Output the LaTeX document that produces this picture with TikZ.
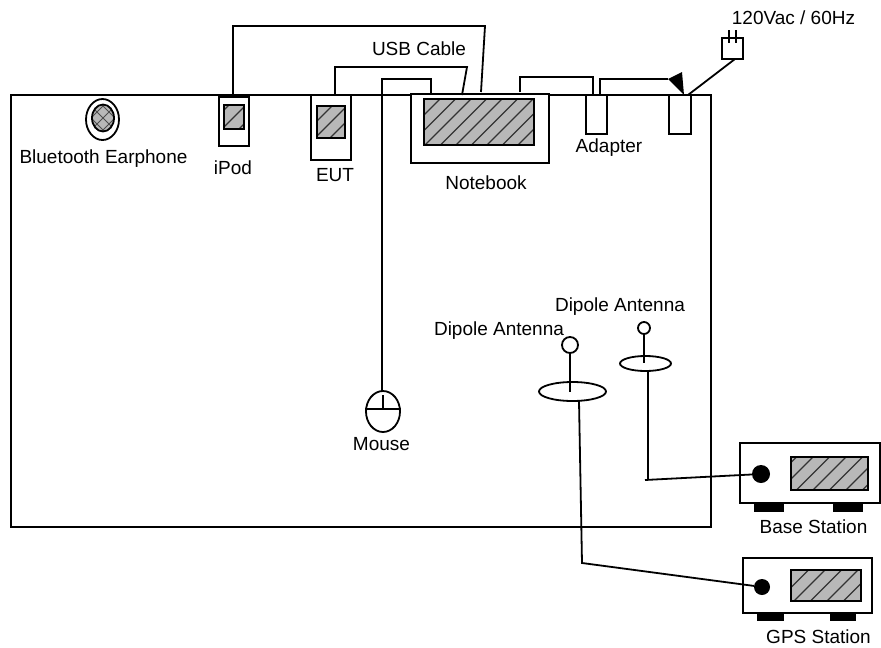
\documentclass[tikz,border=0pt]{standalone}
\usepackage{fontspec}
\setmainfont{Liberation Sans}
\usetikzlibrary{shapes.geometric}
\newcommand{\pbox}[6]{\node[#1,minimum width={(#5-#3)*1pt},minimum height={(#6-#4)*1pt}] (#2) at ({(#3+#5)/2},{(#4+#6)/2}) {};}
\definecolor{shade}{HTML}{B8B8B8}
\tikzset{
  wire/.style={line width=1.8pt,black,line join=miter},
  boxed/.style={draw=black,line width=1.8pt,fill=white,inner sep=0pt,outer sep=0pt,rectangle},
  oval/.style={draw=black,line width=1.8pt,fill=white,inner sep=0pt,outer sep=0pt,ellipse},
  ring/.style={draw=black,line width=1.8pt,fill=white,inner sep=0pt,outer sep=0pt,circle},
  dot/.style={fill=black,inner sep=0pt,outer sep=0pt,circle},
  foot/.style={fill=black,inner sep=0pt,outer sep=0pt,rectangle},
  lab/.style={inner sep=0pt,outer sep=0pt,font=\fontsize{19}{20}\selectfont,text=black},
  hatched/.style={draw=black,line width=1.8pt,fill=shade,inner sep=0pt,outer sep=0pt,rectangle,
    path picture={\foreach \k in {-14,...,14}{
      \draw[black!80,line width=1.3pt] ([xshift=\k*#1*1pt-100pt,yshift=-100pt]path picture bounding box.center) -- +(200pt,200pt);}}},
  crossed/.style={draw=black,line width=1.8pt,fill=shade,inner sep=0pt,outer sep=0pt,ellipse,
    path picture={\foreach \k in {-1,0,1}{
      \draw[black!70,line width=1pt] ([xshift=\k*12pt-60pt,yshift=-60pt]path picture bounding box.center) -- +(120pt,120pt);
      \draw[black!70,line width=1pt] ([xshift=\k*12pt+60pt,yshift=-60pt]path picture bounding box.center) -- +(-120pt,120pt);}}},
}
\begin{document}
\begin{tikzpicture}[x=1pt,y=-1pt]
\useasboundingbox (0,0) rectangle (881,648);
% room
\pbox{boxed,fill=none}{room}{11}{95}{711}{527}
% earphone
\node[oval,minimum width=33pt,minimum height=41pt] (earout) at (102.5,119.5) {};
\node[crossed,minimum width=22pt,minimum height=27pt] (earin) at (103,118) {};
% ipod
\pbox{boxed}{ipod}{219}{97}{249}{146}
\pbox{hatched=17}{ipodscreen}{224}{105}{244}{129}
% eut
\pbox{boxed}{eut}{311}{95}{351}{160}
\pbox{hatched=15}{eutscreen}{317}{106}{345}{138}
% notebook
\pbox{boxed}{notebook}{411}{94}{549}{163}
\pbox{hatched=15.5}{nbscreen}{424}{99}{534}{145}
% adapters
\pbox{boxed}{adapter}{586}{95}{607}{134}
\pbox{boxed}{outlet}{669}{95}{691}{134}
% plug
\pbox{boxed,fill=none}{plug}{722}{38}{743}{59}
\coordinate (prongA) at (729,30); \coordinate (prongAe) at (729,43);
\coordinate (prongB) at (736,30); \coordinate (prongBe) at (736,43);
\draw[wire] (prongA) -- (prongAe);
\draw[wire] (prongB) -- (prongBe);
% connectors at top
\coordinate (ipodtop) at (233,97);
\coordinate (nbA) at (481,92);
\coordinate (nbAc) at (485,26);
\draw[wire] (ipodtop) |- (nbAc) -- (nbA);
\coordinate (euttop) at (335,95);
\coordinate (nbB) at (462,95);
\coordinate (nbBc) at (467,67);
\draw[wire] (euttop) |- (nbBc) -- (nbB);
\coordinate (nbC) at (431,95);
\coordinate (mousetop) at (382,392);
\coordinate (mousec) at (431,79);
\draw[wire] (mousetop) |- (mousec) -- (nbC);
\coordinate (nbD) at (520,92);
\coordinate (adA) at (593,95);
\coordinate (adAc) at (593,77);
\draw[wire] (nbD) |- (adAc) -- (adA);
\coordinate (adB) at (600,95);
\coordinate (tipA) at (668,79);
\draw[wire] (adB) |- (tipA);
\coordinate (tipB) at (682,72);
\coordinate (tipC) at (684,95);
\fill[black] (tipA) -- (tipB) -- (tipC) -- cycle;
\coordinate (outlettop) at (688,95);
\coordinate (plugbot) at (735,59);
\draw[wire] (outlettop) -- (plugbot);
% mouse
\node[oval,minimum width=34pt,minimum height=41pt,fill=none] (mouse) at (383,411.5) {};
\coordinate (mouseL) at (365,409); \coordinate (mouseR) at (400.5,409);
\coordinate (mouseT) at (383,395); \coordinate (mouseM) at (383,409);
\draw[wire] (mouseL) -- (mouseR);
\draw[wire] (mouseT) -- (mouseM);
% antenna 1 (GPS)
\node[oval,minimum width=67pt,minimum height=19pt] (dishA) at (572.5,391.5) {};
\node[ring,minimum size=16pt] (headA) at (570,345) {};
\coordinate (mastA) at (570,392);
\draw[wire] (headA.south) -- (mastA);
% antenna 2 (Base)
\node[oval,minimum width=51pt,minimum height=15pt] (dishB) at (645.5,363.5) {};
\node[ring,minimum size=12pt] (headB) at (644,328) {};
\coordinate (mastB) at (644,363);
\draw[wire] (headB.south) -- (mastB);
% base station
\pbox{boxed}{base}{740}{443}{880}{503}
\pbox{hatched=16.5}{basescreen}{791}{457}{868}{490}
\pbox{foot}{basefootA}{754}{503}{784}{512}
\pbox{foot}{basefootB}{833}{503}{863}{512}
\node[dot,minimum size=18pt] (basedot) at (761,474) {};
% gps station
\pbox{boxed}{gps}{743}{558}{872}{613}
\pbox{hatched=16.5}{gpsscreen}{791}{570}{861}{601}
\pbox{foot}{gpsfootA}{757}{613}{784}{621}
\pbox{foot}{gpsfootB}{830}{613}{856}{621}
\node[dot,minimum size=16pt] (gpsdot) at (762,587) {};
% antenna cables
\coordinate (dishBb) at (648,371);
\coordinate (cornerB) at (648,480);
\coordinate (startB) at (645,480);
\draw[wire] (dishBb) -- (cornerB);
\draw[wire] (startB) -- (basedot);
\coordinate (dishAb) at (579,401);
\coordinate (cornerA) at (582,563);
\draw[wire] (dishAb) -- (cornerA) -- (gpsdot);
% labels
\node[lab] (t1) at (103.5,159) {Bluetooth Earphone};
\node[lab] (t2) at (233,168) {iPod};
\node[lab] (t3) at (335,175) {EUT};
\node[lab] (t4) at (486,183) {Notebook};
\node[lab] (t5) at (609,148) {Adapter};
\node[lab] (t6) at (419,49) {USB Cable};
\node[lab] (t7) at (793.5,18) {120Vac / 60Hz};
\node[lab] (t8) at (381.5,444) {Mouse};
\node[lab] (t9) at (499,331) {Dipole Antenna};
\node[lab] (t10) at (620,307) {Dipole Antenna};
\node[lab] (t11) at (813.5,527) {Base Station};
\node[lab] (t12) at (818.5,637) {GPS Station};
\end{tikzpicture}
\end{document}
